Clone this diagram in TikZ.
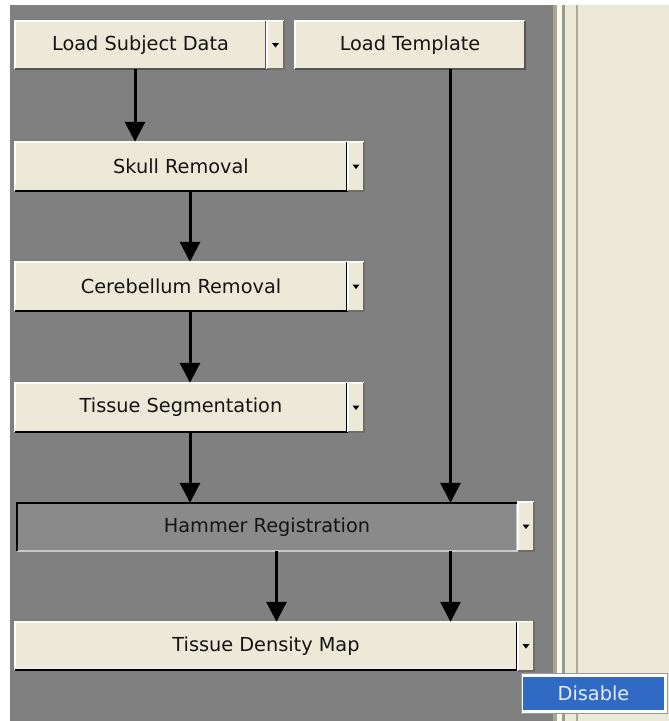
\documentclass[tikz,border=0pt]{standalone}
\usepackage{fontspec}
\setmainfont{DejaVu Sans}
\usetikzlibrary{arrows.meta,calc}
\definecolor{xpbeige}{HTML}{ECE9D8}
\definecolor{xpgray}{HTML}{808080}
\definecolor{xpdark}{HTML}{716F64}
\definecolor{xpmid}{HTML}{ACA899}
\definecolor{xpblue}{HTML}{316AC5}
\definecolor{hamfill}{HTML}{8A8A8A}
\definecolor{txt}{HTML}{141414}
\definecolor{sepa}{HTML}{A7A691}
\definecolor{sepb}{HTML}{F8F8F0}
\definecolor{sepc}{HTML}{9C9B88}
\definecolor{btnedge}{HTML}{555555}
\definecolor{hamlight}{HTML}{C8C8C8}
\definecolor{menuedge}{HTML}{9A9A9A}
\definecolor{menutxt}{HTML}{E6ECF6}
\newcommand\xpraised[3]{%
  \draw[#2,line width=1.5pt] (#1.south west) -- (#1.north west) -- (#1.north east);
  \draw[#3,line width=2pt] (#1.south west) -- (#1.south east) -- (#1.north east);}
\newcommand\xpdrop[1]{%
  \xpraised{#1}{white}{xpdark}
  \fill[black] ($(#1.center)+(-3.5,-2)$) -- ++(7,0) -- ++(-3.5,4.5) -- cycle;}
\begin{document}
\begin{tikzpicture}[x=1pt,y=-1pt,
  btn/.style={rectangle,fill=xpbeige,inner sep=0pt,text=txt,font=\fontsize{19.3}{21}\selectfont},
  ddbtn/.style={rectangle,fill=xpbeige,inner sep=0pt,minimum width=16pt},
  arr/.style={line width=3pt,-{Triangle[width=20pt,length=20pt]}}]
\useasboundingbox (0,0) rectangle (669,721);
% backgrounds
\fill[white] (0,0) rectangle (669,721);
\fill[xpgray] (10,5) rectangle (553,721);
\fill[sepa] (553,5) rectangle (557,721);
\fill[sepb] (557,5) rectangle (562,721);
\fill[sepc] (562,5) rectangle (565,721);
\fill[xpbeige] (565,5) rectangle (669,721);
\fill[xpmid] (576,5) rectangle (578,721);
% buttons
\node[btn,minimum width=251pt,minimum height=48pt] (lsd) at (140.5,45) {Load Subject Data};
\node[ddbtn,minimum height=48pt,minimum width=17pt] (lsddd) at (275.5,45) {};
\node[btn,minimum width=230pt,minimum height=48pt] (lt) at (410,45) {Load Template};
\node[btn,minimum width=332pt,minimum height=49pt] (sr) at (181,166.5) {Skull Removal};
\node[ddbtn,minimum height=49pt] (srdd) at (356,166.5) {};
\node[btn,minimum width=332pt,minimum height=49pt] (cr) at (181,286.5) {Cerebellum Removal};
\node[ddbtn,minimum height=49pt] (crdd) at (356,286.5) {};
\node[btn,minimum width=332pt,minimum height=49pt] (ts) at (181,407.5) {Tissue Segmentation};
\node[ddbtn,minimum height=49pt] (tsdd) at (356,407.5) {};
\node[btn,fill=hamfill,minimum width=500pt,minimum height=48pt] (hr) at (267,527) {Hammer Registration};
\node[ddbtn,minimum height=49pt] (hrdd) at (526,526.5) {};
\node[btn,minimum width=502pt,minimum height=48pt] (tdm) at (266,646) {Tissue Density Map};
\node[ddbtn,minimum height=49pt] (tdmdd) at (526,646) {};
% borders
\xpraised{lsd}{white}{btnedge}
\xpraised{lt}{white}{btnedge}
\xpraised{sr}{white}{black}
\xpraised{cr}{white}{black}
\xpraised{ts}{white}{black}
\xpraised{tdm}{white}{black}
\draw[hamlight,line width=1.5pt] (hr.south west) -- (hr.south east) -- (hr.north east);
\draw[black,line width=2.5pt] (hr.south west) -- (hr.north west) -- (hr.north east);
\xpdrop{lsddd}
\xpdrop{srdd}
\xpdrop{crdd}
\xpdrop{tsdd}
\xpdrop{hrdd}
\xpdrop{tdmdd}
% connectors
\draw[arr] ([xshift=-5.5pt]lsd.south) -- ([xshift=-5.5pt]lsd.south |- sr.north);
\draw[arr] ([xshift=9pt]sr.south) -- ([xshift=9pt]sr.south |- cr.north);
\draw[arr] ([xshift=9pt]cr.south) -- ([xshift=9pt]cr.south |- ts.north);
\draw[arr] ([xshift=9pt]ts.south) -- ([xshift=9pt]ts.south |- hr.north);
\draw[arr] ([xshift=40.5pt]lt.south) -- ([xshift=40.5pt]lt.south |- hr.north);
\draw[arr] ([xshift=9.5pt]hr.south) -- ([xshift=9.5pt]hr.south |- tdm.north);
\draw[arr] ([xshift=183.5pt]hr.south) -- ([xshift=183.5pt]hr.south |- tdm.north);
% popup menu
\node[rectangle,fill=white,draw=menuedge,line width=0.8pt,minimum width=146pt,minimum height=40pt,inner sep=0pt] (menu) at (594,693) {};
\node[rectangle,fill=xpblue,minimum width=141pt,minimum height=33pt,inner sep=0pt,
  text=menutxt,font=\fontsize{19.3}{21}\selectfont] (disable) at (593.5,693.5) {Disable};
\end{tikzpicture}
\end{document}
